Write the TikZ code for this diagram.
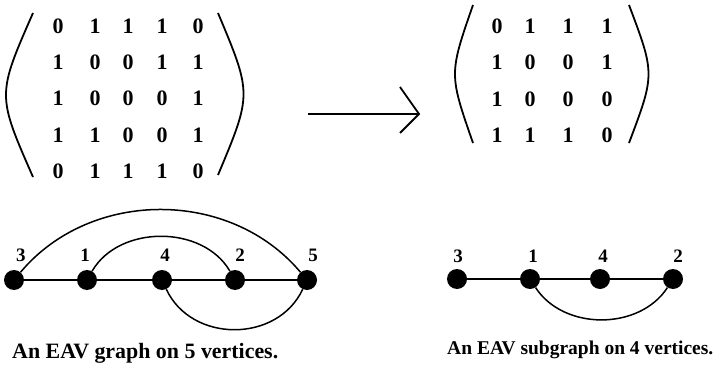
\documentclass[tikz,border=0pt]{standalone}
\usepackage{fontspec}
\setmainfont{Liberation Serif}
\begin{document}
\begin{tikzpicture}[x=1pt,y=-1pt,
  ent/.style={font=\fontsize{22}{22}\selectfont\bfseries, inner sep=0pt},
  vlab/.style={font=\fontsize{19}{19}\selectfont\bfseries, inner sep=0pt},
  captext/.style={font=\bfseries, inner sep=0pt, anchor=base west},
  vert/.style={circle, fill=black, minimum size=20pt, inner sep=0pt},
  paren/.style={line width=1.8pt},
  gedge/.style={line width=1.5pt}]
\useasboundingbox (0,0) rectangle (727,371);
% left matrix
\foreach \r/\y in {1/26,2/62.5,3/98.5,4/135,5/171}{
  \foreach \c/\x in {1/58,2/95,3/128,4/162,5/198}{
    \coordinate (L\r\c) at (\x,\y);
  }
}
\node[ent] (a11) at (L11) {0}; \node[ent] (a12) at (L12) {1}; \node[ent] (a13) at (L13) {1}; \node[ent] (a14) at (L14) {1}; \node[ent] (a15) at (L15) {0};
\node[ent] (a21) at (L21) {1}; \node[ent] (a22) at (L22) {0}; \node[ent] (a23) at (L23) {0}; \node[ent] (a24) at (L24) {1}; \node[ent] (a25) at (L25) {1};
\node[ent] (a31) at (L31) {1}; \node[ent] (a32) at (L32) {0}; \node[ent] (a33) at (L33) {0}; \node[ent] (a34) at (L34) {0}; \node[ent] (a35) at (L35) {1};
\node[ent] (a41) at (L41) {1}; \node[ent] (a42) at (L42) {1}; \node[ent] (a43) at (L43) {0}; \node[ent] (a44) at (L44) {0}; \node[ent] (a45) at (L45) {1};
\node[ent] (a51) at (L51) {0}; \node[ent] (a52) at (L52) {1}; \node[ent] (a53) at (L53) {1}; \node[ent] (a54) at (L54) {1}; \node[ent] (a55) at (L55) {0};
\draw[paren] (33,13) .. controls (-3,95) .. (33,177);
\draw[paren] (218,13) .. controls (252,94) .. (218,175);
% arrow
\coordinate (arrS) at (308,114);
\coordinate (arrE) at (419,114);
\coordinate (barbU) at (400,87);
\coordinate (barbD) at (400,133);
\draw[line width=1.8pt] (arrS) -- (arrE);
\draw[line width=1.8pt, line join=miter] (barbU) -- (arrE) -- (barbD);
% right matrix
\foreach \r/\y in {1/26,2/62.5,3/99,4/135}{
  \foreach \c/\x in {1/497,2/530,3/568,4/607}{
    \coordinate (R\r\c) at (\x,\y);
  }
}
\node[ent] (b11) at (R11) {0}; \node[ent] (b12) at (R12) {1}; \node[ent] (b13) at (R13) {1}; \node[ent] (b14) at (R14) {1};
\node[ent] (b21) at (R21) {1}; \node[ent] (b22) at (R22) {0}; \node[ent] (b23) at (R23) {0}; \node[ent] (b24) at (R24) {1};
\node[ent] (b31) at (R31) {1}; \node[ent] (b32) at (R32) {0}; \node[ent] (b33) at (R33) {0}; \node[ent] (b34) at (R34) {0};
\node[ent] (b41) at (R41) {1}; \node[ent] (b42) at (R42) {1}; \node[ent] (b43) at (R43) {1}; \node[ent] (b44) at (R44) {0};
\draw[paren] (473,5) .. controls (449,74) .. (473,143);
\draw[paren] (629,5) .. controls (655,74) .. (629,143);
% graph 1
\node[vert] (g3) at (14,280) {};
\node[vert] (g1) at (87,280) {};
\node[vert] (g4) at (162,280) {};
\node[vert] (g2) at (235,280) {};
\node[vert] (g5) at (307,280) {};
\node[vlab] (t3) at (21,255) {3};
\node[vlab] (t1) at (85,255) {1};
\node[vlab] (t4) at (165,255) {4};
\node[vlab] (t2) at (240,255) {2};
\node[vlab] (t5) at (313,255) {5};
\draw[gedge] (g3) -- (g1) -- (g4) -- (g2) -- (g5);
\draw[gedge] (g3) to[out=50,in=130] (g5);
\draw[gedge] (g1) to[out=60,in=120] (g2);
\draw[gedge] (g4) to[out=-65,in=-115,looseness=1.12] (g5);
% graph 2
\node[vert] (h3) at (457,279) {};
\node[vert] (h1) at (530,279) {};
\node[vert] (h4) at (600,279) {};
\node[vert] (h2) at (673,279) {};
\node[vlab] (s3) at (458,256) {3};
\node[vlab] (s1) at (533,256) {1};
\node[vlab] (s4) at (603,256) {4};
\node[vlab] (s2) at (678,256) {2};
\draw[gedge] (h3) -- (h1) -- (h4) -- (h2);
\draw[gedge] (h1) to[out=-57,in=-123] (h2);
% captions
\node[captext, font=\fontsize{21.9}{22}\selectfont\bfseries] (c1) at (12,358) {An EAV graph on 5 vertices.};
\node[captext, font=\fontsize{19.5}{20}\selectfont\bfseries] (c2) at (447,354) {An EAV subgraph on 4 vertices.};
\end{tikzpicture}
\end{document}
